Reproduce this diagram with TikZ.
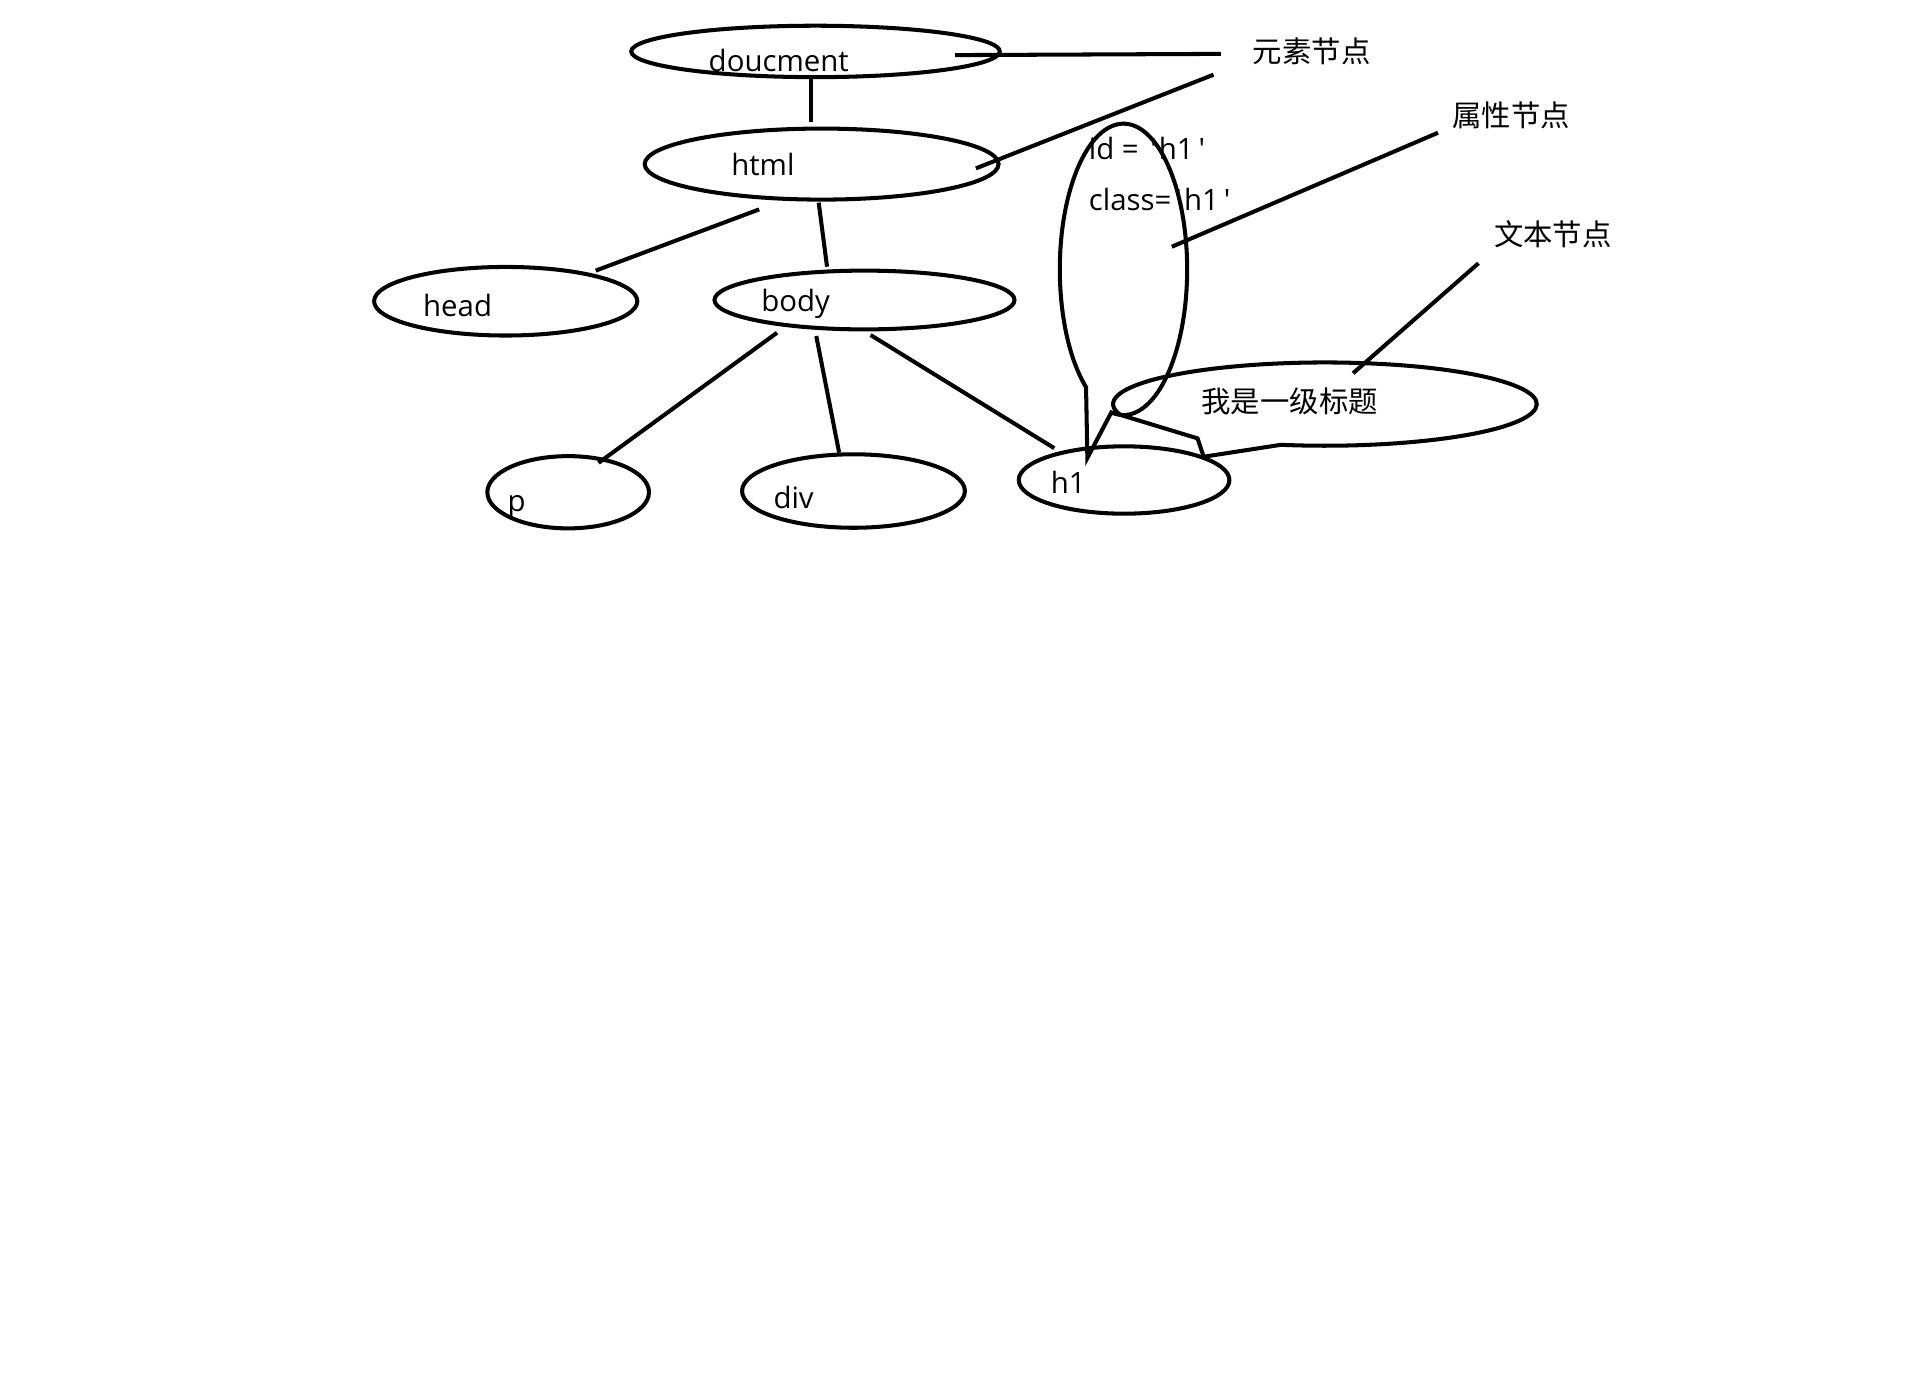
\documentclass[tikz,border=0pt]{standalone}
\usepackage{fontspec}
\setmainfont{Open Sans}
\newfontfamily\cjk{Noto Sans CJK SC}
\usetikzlibrary{shapes.geometric}

\tikzset{
  oval/.style={ellipse, draw, line width=3.3pt, inner sep=0pt},
  word/.style={anchor=base west, inner sep=0pt, font=\fontsize{24}{28}\selectfont},
  hanzi/.style={anchor=west, inner sep=0pt, font=\fontsize{24}{28}\selectfont\cjk},
  link/.style={line width=3.3pt}
}
\newcommand{\qt}{\textquotesingle}

\begin{document}
\begin{tikzpicture}[x=1pt,y=1pt]
  \useasboundingbox (0,0) rectangle (1568,-1125);

  % element nodes
  \node[oval, minimum width=301, minimum height=42] (doc) at (666,-42) {};
  \node[oval, minimum width=289, minimum height=58] (html) at (671,-134) {};
  \node[oval, minimum width=215, minimum height=56] (head) at (413,-246) {};
  \node[oval, minimum width=245, minimum height=48] (body) at (706,-245) {};
  \node[oval, minimum width=132, minimum height=59] (p) at (464,-402) {};
  \node[oval, minimum width=182, minimum height=60] (div) at (697,-401) {};
  \node[oval, minimum width=172, minimum height=55] (h1) at (918,-392) {};

  \node[word] (doc-t) at (578.6,-58.5) {doucment};
  \node[word] (html-t) at (597,-143.7) {html};
  \node[word] (head-t) at (345.4,-258.6) {head};
  \node[word] (body-t) at (621.5,-254.5) {body};
  \node[word] (p-t) at (414.4,-417.9) {p};
  \node[word] (div-t) at (631.5,-415.1) {div};
  \node[word] (h1-t) at (858,-402.9) {h1};

  % attribute bubble
  \coordinate (attr) at (917.5,-220);
  \draw[link] ([shift={(-29.5,-154)}]attr) -- ([shift={(234:52 and 119)}]attr)
    arc[start angle=234, end angle=-101, x radius=52, y radius=119] -- cycle;
  \node[word] (id-t) at (889,-130) {id = \kern3pt\qt\kern2pt h1\kern4pt\qt};
  \node[word] (class-t) at (889,-171.5) {class=\kern3pt\qt\kern2pt h1\kern4pt\qt};

  % text bubble
  \coordinate (txt) at (1082,-330);
  \draw[link] ([shift={(-102:173 and 34)}]txt)
    arc[start angle=-102, end angle=195, x radius=173, y radius=34]
    -- ([shift={(-104,-28)}]txt) -- ([shift={(-99,-43)}]txt) -- cycle;
  \node[hanzi] (txt-t) at (981,-328) {我是一级标题};

  % labels
  \node[hanzi] (elem) at (1023,-42) {元素节点};
  \node[hanzi] (attrlbl) at (1186,-94.5) {属性节点};
  \node[hanzi] (txtlbl) at (1220,-191) {文本节点};

  % tree edges
  \draw[link] ([shift={(-4,-21)}]doc.center) -- ([shift={(-9,34)}]html.center);
  \draw[link] ([shift={(-51,-37)}]html.center) -- ([shift={(73.5,25)}]head.center);
  \draw[link] ([shift={(-2.4,-31.5)}]html.center) -- ([shift={(-30.6,27.2)}]body.center);
  \draw[link] ([shift={(-71.4,-26.7)}]body.center) -- ([shift={(24.8,24)}]p.center);
  \draw[link] ([shift={(-39.4,-29.4)}]body.center) -- ([shift={(-11.7,31.3)}]div.center);
  \draw[link] ([shift={(5,-28.6)}]body.center) -- ([shift={(-57,26)}]h1.center);

  % pointer lines to the labels
  \draw[link] ([shift={(114,-3)}]doc.center) -- ([shift={(-26,-2)}]elem.west);
  \draw[link] ([shift={(126,-3.5)}]html.center) -- ([shift={(-32,-19)}]elem.west);
  \draw[link] ([shift={(39.5,18.5)}]attr) -- ([shift={(-11.6,-13.9)}]attrlbl.west);
  \draw[link] ([shift={(23,25.2)}]txt) -- ([shift={(-12.6,-24)}]txtlbl.west);
\end{tikzpicture}
\end{document}
